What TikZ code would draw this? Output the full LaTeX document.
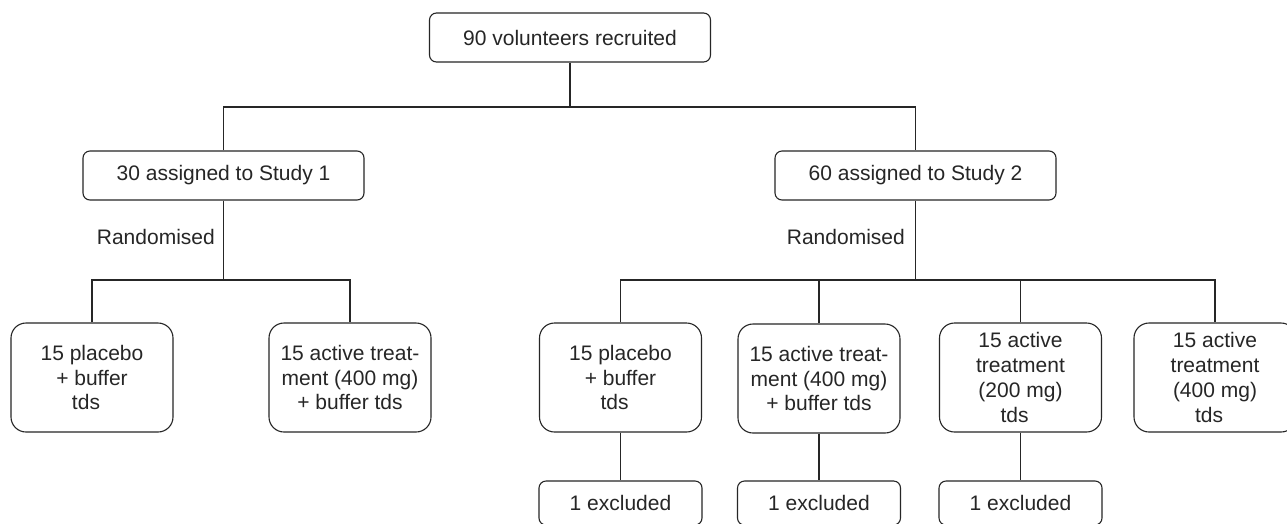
\documentclass[tikz,border=0pt]{standalone}
\usepackage{fontspec}
\setmainfont{Liberation Sans}
\definecolor{ink}{HTML}{262626}
\begin{document}
\begin{tikzpicture}[x=1pt,y=-1pt,
  every node/.style={text=ink,font=\fontsize{21}{24.8}\selectfont},
  box/.style={draw=ink,line width=1.1pt,rectangle,rounded corners=7pt,inner sep=0pt,align=center},
  wide/.style={box,minimum width=281pt,minimum height=49pt},
  tall/.style={box,rounded corners=15pt,minimum width=162pt,minimum height=109pt},
  excl/.style={box,minimum width=163pt,minimum height=44pt},
  conn/.style={draw=ink,line width=1.1pt},
  lbl/.style={anchor=east,inner sep=0pt}]
\clip (0,0) rectangle (1287,523);
\fill[white] (0,0) rectangle (1287,523);
% nodes
\node[wide] (top) at (570,37.5) {90 volunteers recruited};
\node[wide] (s1) at (223.5,175.5) {30 assigned to Study 1};
\node[wide] (s2) at (915.5,175.5) {60 assigned to Study 2};
\node[tall] (a1) at (92,377.5) {15 placebo\\+ buffer\\tds\hspace*{12pt}};
\node[tall] (a2) at (350,377.5) {15 active treat-\\ment (400 mg)\\+ buffer tds};
\node[tall] (b1) at (620.5,377.5) {15 placebo\\+ buffer\\tds\hspace*{12pt}};
\node[tall] (b2) at (819,378.5) {15 active treat-\\ment (400 mg)\\+ buffer tds};
\node[tall] (b3) at (1020.5,377.5) {15 active\\treatment\\(200 mg)\\tds\hspace*{12pt}};
\node[tall] (b4) at (1215,377.5) {15 active\\treatment\\(400 mg)\\tds\hspace*{12pt}};
\node[excl] (e1) at (620.5,503) {1 excluded};
\node[excl] (e2) at (819,503) {1 excluded};
\node[excl] (e3) at (1020.5,503) {1 excluded};
% junctions
\coordinate (j0) at (570,107);
\coordinate (j1) at (223.5,280);
\coordinate (j2) at (915.5,280);
% labels
\node[lbl] (r1) at (215,237) {Randomised};
\node[lbl] (r2) at (905,237) {Randomised};
% connectors
\draw[conn] (top.south) -- (j0);
\draw[conn] (s1.north) |- (j0) -| (s2.north);
\draw[conn] (s1.south) -- (j1);
\draw[conn] (a1.north) |- (j1) -| (a2.north);
\draw[conn] (s2.south) -- (j2);
\draw[conn] (b1.north) |- (j2) -| (b4.north);
\draw[conn] (b2.north) -- (b2.north |- j2);
\draw[conn] (b3.north) -- (b3.north |- j2);
\draw[conn] (b1.south) -- (e1.north);
\draw[conn] (b2.south) -- (e2.north);
\draw[conn] (b3.south) -- (e3.north);
\end{tikzpicture}
\end{document}
